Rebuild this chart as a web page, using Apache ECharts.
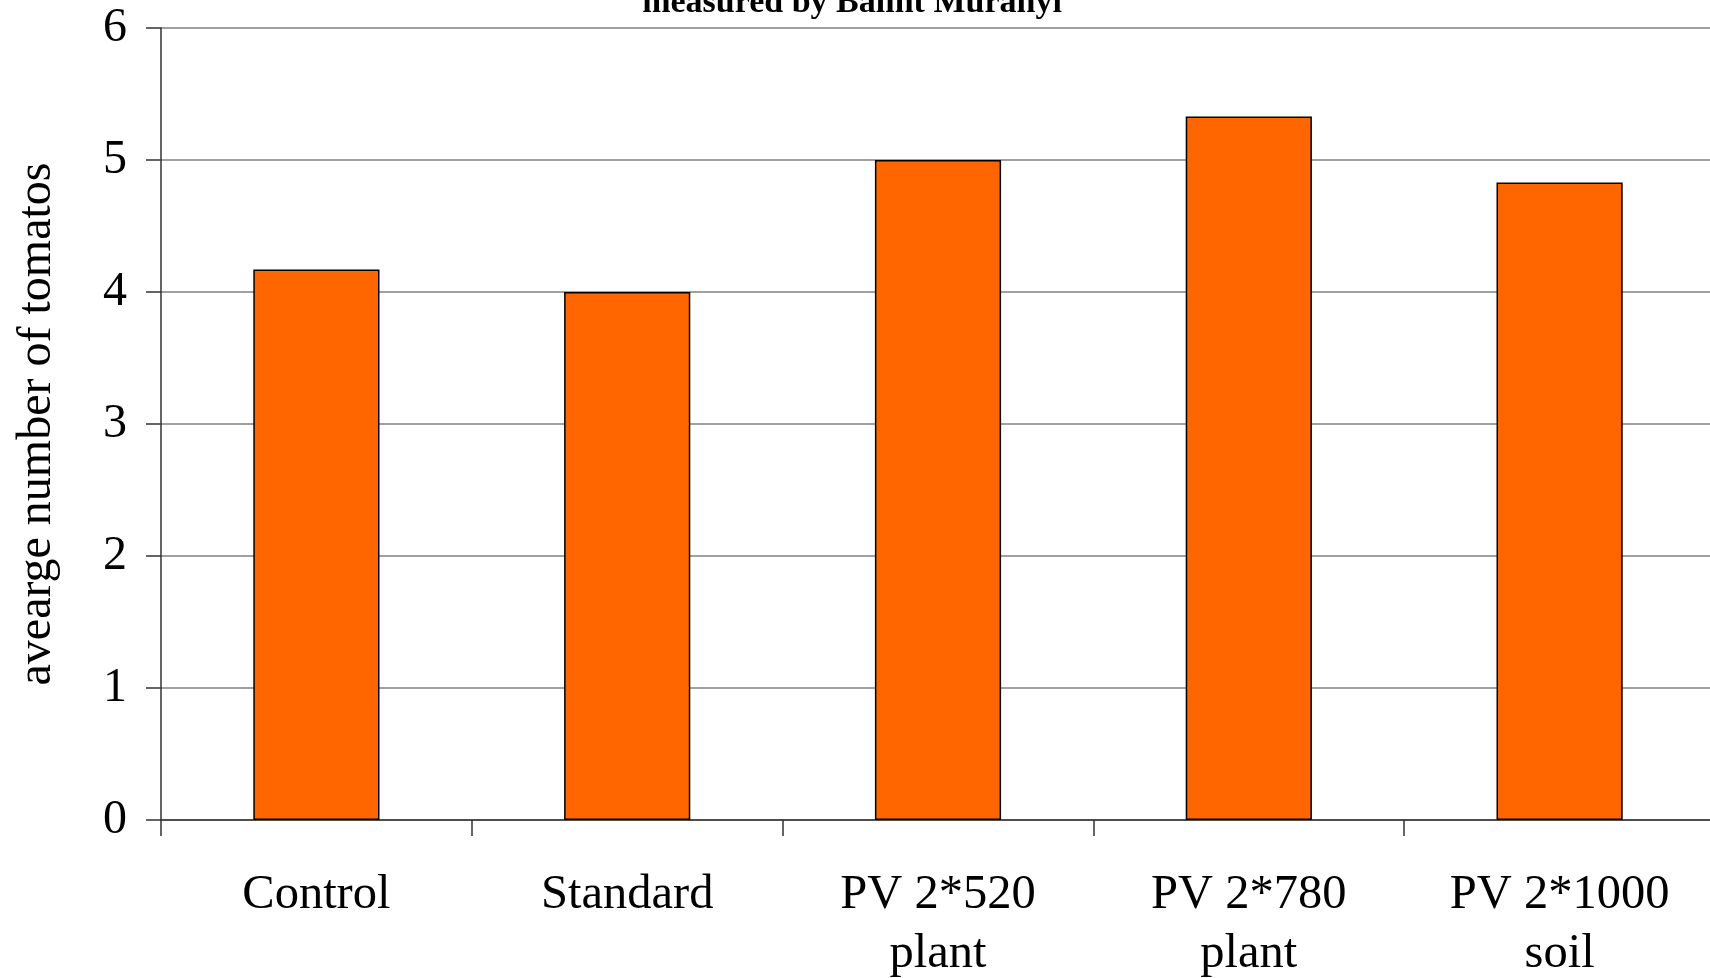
<!DOCTYPE html>
<html>
<head>
<meta charset="utf-8">
<script src="https://cdn.jsdelivr.net/npm/echarts@6/dist/echarts.min.js"></script>
<style>
html,body{margin:0;padding:0;background:#fff;}
#chart{width:1710px;height:978px;}
</style>
</head>
<body>
<div id="chart"></div>
<script>
const categories = ['Control', 'Standard', 'PV 2*520\nplant', 'PV 2*780\nplant', 'PV 2*1000\nsoil'];
const values = [4.17, 4.0, 5.0, 5.33, 4.83];
const yTicks = { min: 0, max: 6, interval: 1 };
const titleText = 'measured by Balint Muranyi';
const yAxisName = 'avearge number of tomatos';

const FONT = "'Liberation Serif', 'Times New Roman', serif";
const chart = echarts.init(document.getElementById('chart'), null, { renderer: 'canvas' });
chart.setOption({
  animation: false,
  backgroundColor: '#ffffff',
  graphic: [{
    type: 'text',
    x: 852, y: 3,
    style: {
      text: titleText,
      font: 'bold 34px ' + FONT,
      fill: '#000',
      align: 'center',
      verticalAlign: 'middle'
    }
  }],
  grid: { left: 161, right: -5, top: 28, bottom: 158, containLabel: false, outerBoundsMode: 'none' },
  xAxis: {
    type: 'category',
    data: categories,
    axisLine: { show: true, lineStyle: { color: '#333', width: 1.5 } },
    axisTick: { show: true, length: 16, lineStyle: { color: '#333', width: 1.5 } },
    axisLabel: { color: '#000', fontFamily: FONT, fontSize: 48.5, lineHeight: 59, margin: 46, interval: 0 },
    splitLine: { show: false }
  },
  yAxis: {
    type: 'value',
    min: yTicks.min, max: yTicks.max, interval: yTicks.interval,
    name: yAxisName,
    nameLocation: 'middle',
    nameRotate: 90,
    nameGap: 100,
    nameTextStyle: { color: '#000', fontFamily: FONT, fontSize: 48 },
    axisLine: { show: true, lineStyle: { color: '#333', width: 1.5 } },
    axisTick: { show: true, length: 15, lineStyle: { color: '#333', width: 1.5 } },
    axisLabel: { color: '#000', fontFamily: FONT, fontSize: 48, margin: 34 },
    splitLine: { show: true, lineStyle: { color: '#808080', width: 1.5 } }
  },
  series: [{
    type: 'bar',
    data: values,
    barWidth: '40.6%',
    itemStyle: { color: '#FF6600', borderColor: '#000', borderWidth: 1.5 }
  }]
});
</script>
</body>
</html>
